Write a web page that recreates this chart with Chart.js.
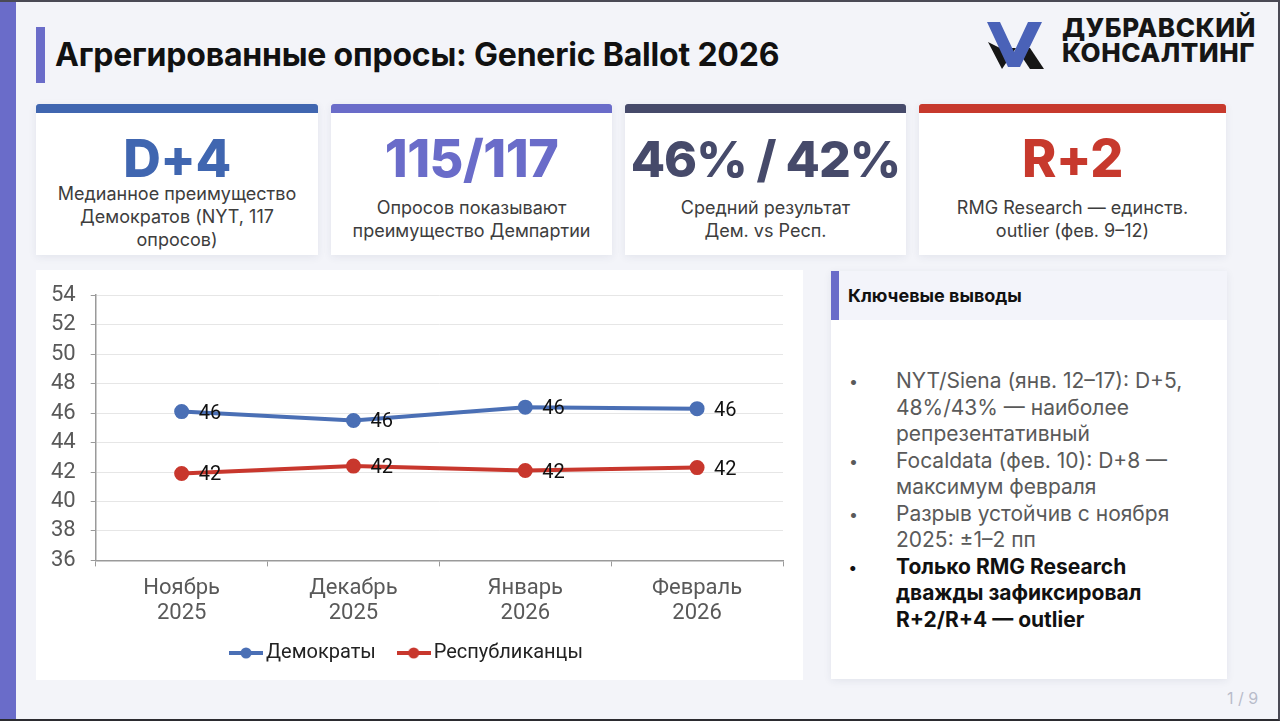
<!DOCTYPE html>
<html lang="ru">
<head>
    <meta charset="UTF-8">
    <title>Агрегированные опросы: Generic Ballot 2026</title>
    <script src="https://cdn.jsdelivr.net/npm/chart.js"></script>
    <style>
        html, body {
            margin: 0;
            padding: 0;
        }
        body {
            width: 1280px;
            height: 721px;
            position: relative;
            overflow: hidden;
            background: #f3f4f9;
            font-family: 'Inter', 'Noto Sans', sans-serif;
            color: #222;
        }
        .frame {
            position: absolute;
            left: 0; top: 0; right: 0; bottom: 0;
            border-top: 2px solid #4a4a55;
            border-right: 2px solid #4a4a55;
            border-bottom: 2px solid #2b2b30;
            box-sizing: border-box;
            pointer-events: none;
        }
        .side {
            position: absolute;
            left: 0; top: 0;
            width: 16px; height: 721px;
            background: #6a6cc9;
        }
        .title-bar {
            position: absolute;
            left: 36px; top: 27px;
            width: 9px; height: 56px;
            background: #6a6cc9;
        }
        h1 {
            position: absolute;
            left: 55px; top: 35px;
            margin: 0;
            font-size: 32px;
            font-weight: 700;
            color: #111;
            letter-spacing: -0.2px;
            white-space: nowrap;
        }
        .logo {
            position: absolute;
            left: 986px; top: 20px;
        }
        .logo-text {
            position: absolute;
            left: 1062px; top: 15px;
            font-size: 26px;
            font-weight: 800;
            line-height: 25px;
            color: #161616;
            letter-spacing: 0.5px;
        }
        .card {
            position: absolute;
            top: 104px;
            height: 151px;
            background: #fff;
            box-shadow: 0 2px 8px rgba(40, 50, 90, 0.08);
            text-align: center;
            box-sizing: border-box;
        }
        .card .bar {
            height: 9px;
            border-radius: 3px 3px 0 0;
        }
        .card .big {
            font-size: 52px;
            font-weight: 800;
            line-height: 60px;
            margin-top: 16px;
            white-space: nowrap;
            letter-spacing: -0.5px;
        }
        .card .sub {
            font-size: 18px;
            line-height: 23px;
            color: #3d3d3d;
            margin-top: 7px;
        }
        .panel {
            position: absolute;
            left: 36px; top: 270px;
            width: 767px; height: 410px;
            background: #fff;
        }
        .panel canvas {
            position: absolute;
            left: 0; top: -3px;
        }
        .notes {
            position: absolute;
            left: 831px; top: 271px;
            width: 396px; height: 408px;
            background: #fff;
            box-shadow: 0 2px 8px rgba(40, 50, 90, 0.08);
        }
        .notes .head {
            height: 49px;
            background: #f3f4fa;
            border-left: 8px solid #6a6cc9;
            font-size: 18px;
            font-weight: 700;
            line-height: 49px;
            padding-left: 9px;
            color: #111;
        }
        .notes ul {
            list-style: none;
            margin: 0;
            padding: 0;
            position: absolute;
            left: 18px; top: 97px;
            width: 362px;
        }
        .notes li {
            position: relative;
            padding-left: 47px;
            font-size: 21px;
            line-height: 26.5px;
            color: #5a5a5a;
        }
        .notes li::before {
            content: "•";
            position: absolute;
            left: 0; top: 0;
            font-size: 16px;
        }
        .notes li.strong {
            color: #111;
            font-weight: 700;
        }
        .page {
            position: absolute;
            left: 1227px; top: 688px;
            font-size: 16px;
            color: #b9bccb;
        }
    </style>
</head>
<body>

    <div class="side"></div>
    <div class="title-bar"></div>
    <h1>Агрегированные опросы: Generic Ballot 2026</h1>

    <svg class="logo" width="60" height="50" viewBox="0 0 60 50">
        <polygon points="2,22 16,49 30,28 14,28" fill="#161616"/>
        <polygon points="30,28 44,49 58,49 44,28" fill="#161616"/>
        <polygon points="1,2 14,2 28,32 42,2 56,2 34,47 22,47" fill="#4a62b8"/>
    </svg>
    <div class="logo-text">ДУБРАВСКИЙ<br>КОНСАЛТИНГ</div>

    <div class="card" style="left:36px;width:282px;">
        <div class="bar" style="background:#4066b0"></div>
        <div class="big" style="color:#4066b0">D+4</div>
        <div class="sub" style="margin-top:-7px">Медианное преимущество<br>Демократов (NYT, 117<br>опросов)</div>
    </div>
    <div class="card" style="left:331px;width:281px;">
        <div class="bar" style="background:#6a6cc9"></div>
        <div class="big" style="color:#6a6cc9">115/117</div>
        <div class="sub">Опросов показывают<br>преимущество Демпартии</div>
    </div>
    <div class="card" style="left:625px;width:281px;">
        <div class="bar" style="background:#464a6a"></div>
        <div class="big" style="color:#464a6a;font-size:50px;letter-spacing:-1px">46% / 42%</div>
        <div class="sub">Средний результат<br>Дем. vs Респ.</div>
    </div>
    <div class="card" style="left:919px;width:307px;">
        <div class="bar" style="background:#c7392d"></div>
        <div class="big" style="color:#c7392d">R+2</div>
        <div class="sub">RMG Research — единств.<br>outlier (фев. 9–12)</div>
    </div>

    <div class="panel">
        <canvas id="pollChart" width="767" height="410"></canvas>
    </div>

    <div class="notes">
        <div class="head">Ключевые выводы</div>
        <ul>
            <li>NYT/Siena (янв. 12–17): D+5, 48%/43% — наиболее репрезентативный</li>
            <li>Focaldata (фев. 10): D+8 — максимум февраля</li>
            <li>Разрыв устойчив с ноября 2025: ±1–2 пп</li>
            <li class="strong">Только RMG Research дважды зафиксировал R+2/R+4 — outlier</li>
        </ul>
    </div>

    <div class="page">1 / 9</div>
    <div class="frame"></div>

    <script>
        const months = [['Ноябрь', '2025'], ['Декабрь', '2025'], ['Январь', '2026'], ['Февраль', '2026']];
        const demValues = [46.1, 45.5, 46.4, 46.3];
        const repValues = [41.9, 42.4, 42.1, 42.3];
        const demColor = '#4a6fb5';
        const repColor = '#c8372d';

        // small line+dot marker for the legend
        function legendMarker(color) {
            const c = document.createElement('canvas');
            c.width = 34;
            c.height = 12;
            const g = c.getContext('2d');
            g.strokeStyle = color;
            g.lineWidth = 4;
            g.beginPath();
            g.moveTo(0, 6);
            g.lineTo(34, 6);
            g.stroke();
            g.fillStyle = color;
            g.beginPath();
            g.arc(17, 6, 5.5, 0, Math.PI * 2);
            g.fill();
            return c;
        }

        // rounded value labels to the right of each point
        const valueLabels = {
            id: 'valueLabels',
            afterDatasetsDraw(chart) {
                const ctx = chart.ctx;
                ctx.save();
                ctx.font = '20px Roboto';
                ctx.fillStyle = '#111';
                ctx.textBaseline = 'middle';
                chart.data.datasets.forEach((ds, i) => {
                    chart.getDatasetMeta(i).data.forEach((pt, j) => {
                        ctx.fillText(Math.round(ds.data[j]), pt.x + 17, pt.y + 2);
                    });
                });
                ctx.restore();
            }
        };

        const ctx = document.getElementById('pollChart').getContext('2d');

        new Chart(ctx, {
            type: 'line',
            data: {
                labels: months,
                datasets: [
                    {
                        label: 'Демократы',
                        data: demValues,
                        borderColor: demColor,
                        backgroundColor: demColor,
                        borderWidth: 4,
                        pointRadius: 5.5,
                        pointStyle: 'circle',
                        tension: 0
                    },
                    {
                        label: 'Республиканцы',
                        data: repValues,
                        borderColor: repColor,
                        backgroundColor: repColor,
                        borderWidth: 4,
                        pointRadius: 5.5,
                        pointStyle: 'circle',
                        tension: 0
                    }
                ]
            },
            options: {
                responsive: false,
                animation: false,
                layout: {
                    padding: { top: 4, right: 20, left: 0, bottom: 4 }
                },
                scales: {
                    x: {
                        offset: true,
                        grid: {
                            offset: true,
                            drawOnChartArea: false,
                            drawTicks: true,
                            tickLength: 6,
                            color: '#9a9a9a'
                        },
                        border: { color: '#9a9a9a', width: 1.5 },
                        ticks: {
                            color: '#595959',
                            font: { family: 'Roboto', size: 22, lineHeight: 1.15 },
                            padding: 9,
                            maxRotation: 0
                        }
                    },
                    y: {
                        min: 36,
                        max: 54,
                        ticks: {
                            stepSize: 2,
                            autoSkip: false,
                            color: '#595959',
                            font: { family: 'Roboto', size: 22 },
                            padding: 15
                        },
                        grid: {
                            color: '#e6e6e6',
                            tickColor: '#9a9a9a',
                            tickLength: 5
                        },
                        border: { color: '#9a9a9a', width: 1.5 }
                    }
                },
                plugins: {
                    legend: {
                        position: 'bottom',
                        labels: {
                            usePointStyle: true,
                            color: '#222',
                            font: { family: 'Roboto', size: 20 },
                            padding: 8,
                            generateLabels(chart) {
                                const last = chart.data.datasets.length - 1;
                                return chart.data.datasets.map((ds, i) => ({
                                    // extra gap after all but the last entry
                                    text: i < last ? ds.label + '\u00a0\u00a0\u00a0\u00a0' : ds.label,
                                    pointStyle: legendMarker(ds.borderColor),
                                    fillStyle: ds.borderColor,
                                    strokeStyle: ds.borderColor,
                                    lineWidth: 0,
                                    fontColor: '#222',
                                    datasetIndex: i,
                                    hidden: false
                                }));
                            }
                        }
                    },
                    tooltip: { enabled: false }
                }
            },
            plugins: [valueLabels]
        });
    </script>

</body>
</html>
